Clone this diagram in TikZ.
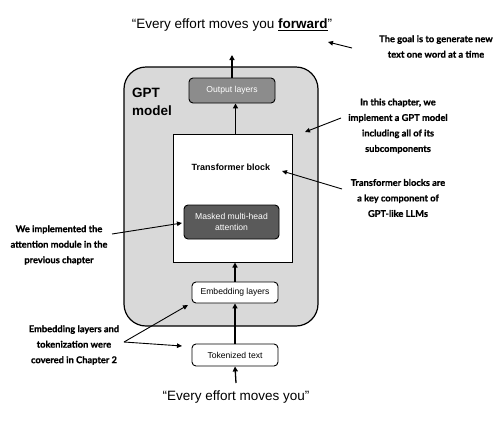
\documentclass[tikz,border=0pt]{standalone}
\usepackage{fontspec}
\setmainfont{Liberation Sans}
\newfontfamily\notefont[BoldFeatures={FakeBold=0.8}]{Lato}
\usetikzlibrary{arrows.meta}
\definecolor{gptgray}{HTML}{D9D9D9}
\definecolor{outgray}{HTML}{8C8C8C}
\definecolor{attgray}{HTML}{5A5A5A}
\begin{document}
\begin{tikzpicture}[x=1pt,y=-1pt,
  box/.style={draw=black, line width=0.9pt, rounded corners=4pt, align=center, inner sep=0pt,
    font=\fontsize{8.6}{10.5}\selectfont},
  arr/.style={-{Triangle[length=5pt,width=5pt]}, line width=1.3pt},
  note/.style={align=center, font=\notefont\bfseries\fontsize{9.3}{15.5}\selectfont},
  narr/.style={-{Triangle[length=5pt,width=4.5pt]}, line width=0.9pt}]
\useasboundingbox (0,0) rectangle (504,429);
% main container
\node[draw=black, line width=1.2pt, fill=gptgray, rounded corners=22pt,
  minimum width=194pt, minimum height=259pt, inner sep=0pt] (gpt) at (221,196.5) {};
\node[font=\bfseries\fontsize{13.5}{18}\selectfont, align=left] (gptlabel) at (152,102) {GPT\\model};
% boxes
\node[box, fill=outgray, text=white, minimum width=86pt, minimum height=25pt] (outl) at (232,90.5) {Output layers};
\node[draw=black, line width=1pt, fill=white, minimum width=119pt, minimum height=128pt, inner sep=0pt] (tb) at (232.5,198) {};
\node[font=\bfseries\fontsize{9}{11}\selectfont] (tblabel) at (231,167) {Transformer block};
\node[box, fill=attgray, text=white, minimum width=95pt, minimum height=34pt] (att) at (231.5,222) {Masked multi-head\\attention};
\node[box, fill=white, minimum width=86pt, minimum height=21pt] (emb) at (235,292.5) {Embedding layers};
\node[box, fill=white, minimum width=86pt, minimum height=22pt] (tok) at (235,355) {Tokenized text};
% texts
\node[font=\fontsize{13.5}{16}\selectfont] (toptext) at (232,25) {“Every effort moves you \underline{\textbf{forward}}”};
\node[font=\fontsize{13.5}{16}\selectfont] (bottext) at (236,397) {“Every effort moves you”};
% main arrows
\coordinate (topend) at (232,55);
\coordinate (botstart) at (236,383);
\draw[arr] (outl.north) -- (topend);
\draw[arr] ([xshift=3pt]tb.north) -- ([xshift=3pt]tb.north |- outl.south);
\draw[arr] (emb.north) -- (emb.north |- tb.south);
\draw[arr] (tok.north) -- (emb.south);
\draw[arr] (botstart) -- (tok.south);
% notes
\node[note] (ngoal) at (436,46.5) {The goal is to generate new\\text one word at a time};
\node[note] (nchap) at (398,126) {In this chapter, we\\implement a GPT model\\including all of its\\subcomponents};
\node[note] (ntb) at (398,198) {Transformer blocks are\\a key component of\\GPT-like LLMs};
\node[note] (natt) at (59,245) {We implemented the\\attention module in the\\previous chapter};
\node[note] (nemb) at (74,345) {Embedding layers and\\tokenization were\\covered in Chapter 2};
% note arrows
\coordinate (g1) at (352,48); \coordinate (g2) at (328,42);
\coordinate (c1) at (341,118); \coordinate (c2) at (305,132);
\coordinate (t1) at (342,189); \coordinate (t2) at (282,171);
\coordinate (a1) at (112,234); \coordinate (a2) at (182,223);
\coordinate (e1) at (124,342); \coordinate (e2) at (188,305); \coordinate (e3) at (182,346);
\draw[narr] (g1) -- (g2);
\draw[narr] (c1) -- (c2);
\draw[narr] (t1) -- (t2);
\draw[narr] (a1) -- (a2);
\draw[narr] (e1) -- (e2);
\draw[narr] (e1) -- (e3);
\end{tikzpicture}
\end{document}
